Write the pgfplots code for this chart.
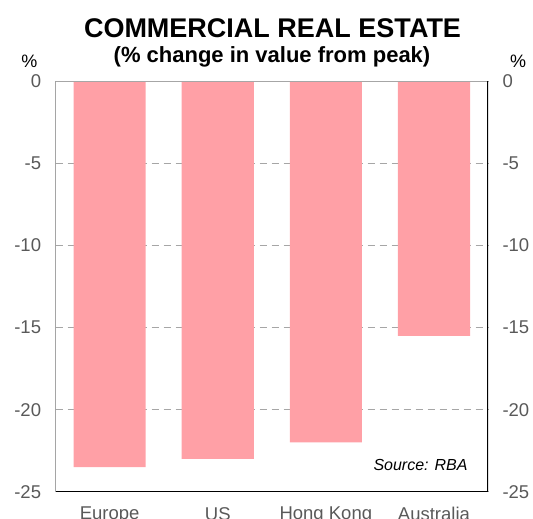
\documentclass[border=0pt]{standalone}
\usepackage{pgfplots}
\pgfplotsset{compat=1.18}
\usepackage{fontspec}
\setmainfont{Liberation Sans}
\definecolor{barpink}{RGB}{255,160,166}
\definecolor{ticktxt}{RGB}{89,89,89}
\definecolor{gridgray}{RGB}{166,166,166}
\begin{document}
\begin{tikzpicture}
\clip (0,0) rectangle (533pt,519pt);
\pgfplotsset{common/.style={
 at={(55.6pt,27.3pt)}, anchor=south west,
 width=432.4pt, height=410.2pt, scale only axis,
 xmin=-0.5, xmax=3.5, ymin=-25, ymax=0,
 ytick={-25,-20,-15,-10,-5,0},
 major tick length=0pt,
 axis line style={draw=none},
 tick label style={font=\fontsize{18.5}{20}\selectfont, text=ticktxt},
 /pgf/number format/assume math mode=true,
}}
\begin{axis}[common,
 xtick={0,1,2,3}, xticklabels={Europe,US,Hong Kong,Australia},
 ymajorgrids, grid style={gridgray, line width=1.2pt, dash pattern=on 7pt off 5pt},
 yticklabel style={xshift=-11pt},
 xticklabel style={yshift=-12pt},
]
\addplot[ybar, bar width=0.667, fill=barpink, draw=none] coordinates {(0,-23.5) (1,-23) (2,-22) (3,-15.5)};
\draw[gridgray, line width=1.5pt] (rel axis cs:0,1) -- (rel axis cs:1,1);
\draw[black, line width=1.5pt] (rel axis cs:0,1) -- (rel axis cs:0,0) -- (rel axis cs:1,0) -- (rel axis cs:1,1);
\end{axis}
\begin{axis}[common,
 xtick=\empty,
 yticklabel pos=right,
 yticklabel style={xshift=11pt},
]
\end{axis}
\node[anchor=base, font=\bfseries\fontsize{27}{30}\selectfont] at (272.5pt,481pt) {COMMERCIAL REAL ESTATE};
\node[anchor=base, font=\bfseries\fontsize{22}{25}\selectfont] at (272pt,456pt) {(\% change in value from peak)};
\node[font=\fontsize{18}{20}\selectfont] at (29.5pt,458pt) {\%};
\node[font=\fontsize{18}{20}\selectfont] at (518pt,458pt) {\%};
\node[anchor=base east, font=\itshape\fontsize{16}{19}\selectfont] at (471pt,48pt) {Source: RBA};
\end{tikzpicture}
\end{document}
